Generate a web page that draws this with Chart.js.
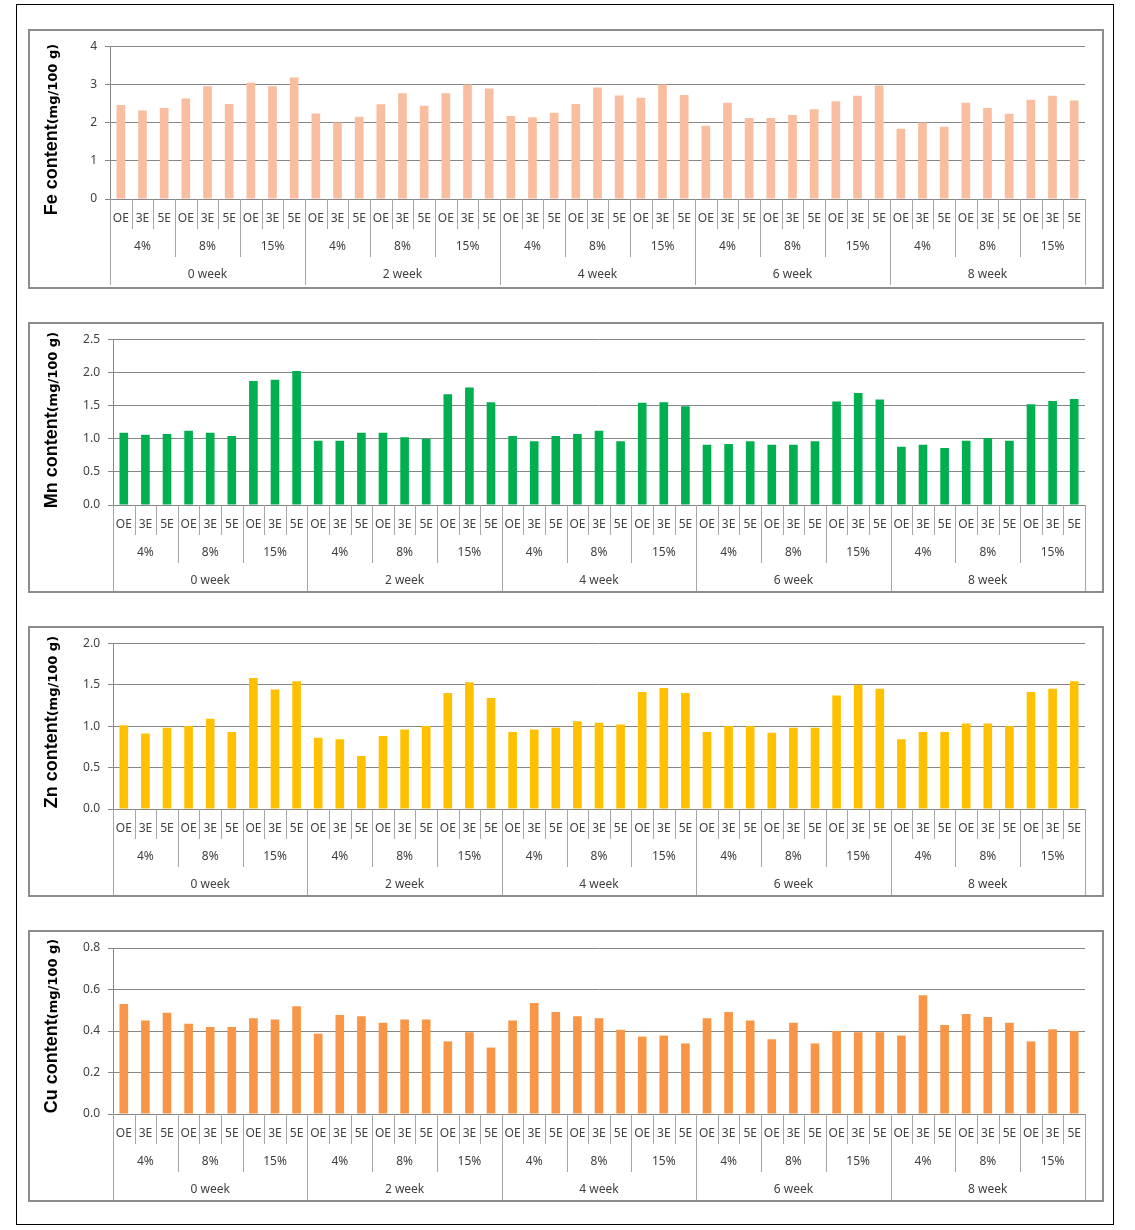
<!DOCTYPE html>
<html>
<head>
<meta charset="utf-8">
<script src="https://cdn.jsdelivr.net/npm/chart.js@4.4.1/dist/chart.umd.min.js"></script>
<style>
  html, body { margin: 0; padding: 0; background: #fff; }
  #frame { position: absolute; left: 16px; top: 4px; width: 1096px; height: 1219px; border: 1.5px solid #000; }
  .panel { position: absolute; left: 28px; width: 1072px; border: 2px solid #8c8c8c; background: #fff; }
  .panel canvas { position: absolute; left: 0; top: 0; }
</style>
</head>
<body>
<div id="frame"></div>
<div class="panel" id="p-fe" style="top:29px;height:256px;"><canvas id="c-fe"></canvas></div>
<div class="panel" id="p-mn" style="top:322px;height:267px;"><canvas id="c-mn"></canvas></div>
<div class="panel" id="p-zn" style="top:626px;height:267px;"><canvas id="c-zn"></canvas></div>
<div class="panel" id="p-cu" style="top:930px;height:268px;"><canvas id="c-cu"></canvas></div>
<script>
const weeks = ['0 week', '2 week', '4 week', '6 week', '8 week'];
const concentrations = ['4%', '8%', '15%'];
const extractions = ['OE', '3E', '5E'];

const feValues = [2.46, 2.32, 2.38, 2.63, 2.95, 2.49, 3.04, 2.95, 3.18,
                  2.24, 2.00, 2.15, 2.48, 2.77, 2.44, 2.77, 3.00, 2.89,
                  2.17, 2.14, 2.26, 2.49, 2.92, 2.71, 2.65, 3.00, 2.72,
                  1.92, 2.52, 2.12, 2.12, 2.20, 2.35, 2.56, 2.70, 2.97,
                  1.84, 2.00, 1.89, 2.52, 2.38, 2.23, 2.60, 2.70, 2.58];
const mnValues = [1.09, 1.06, 1.07, 1.12, 1.09, 1.04, 1.87, 1.89, 2.02,
                  0.97, 0.97, 1.09, 1.09, 1.02, 1.00, 1.67, 1.77, 1.55,
                  1.04, 0.96, 1.04, 1.07, 1.12, 0.96, 1.54, 1.55, 1.49,
                  0.91, 0.92, 0.96, 0.91, 0.91, 0.96, 1.56, 1.69, 1.59,
                  0.88, 0.91, 0.86, 0.97, 1.01, 0.97, 1.52, 1.57, 1.60];
const znValues = [1.01, 0.91, 0.98, 1.00, 1.09, 0.93, 1.58, 1.44, 1.54,
                  0.86, 0.84, 0.64, 0.88, 0.96, 1.00, 1.40, 1.53, 1.34,
                  0.93, 0.96, 0.98, 1.06, 1.04, 1.02, 1.41, 1.46, 1.40,
                  0.93, 1.00, 1.00, 0.92, 0.98, 0.98, 1.37, 1.50, 1.45,
                  0.84, 0.93, 0.93, 1.03, 1.03, 1.00, 1.41, 1.45, 1.54];
const cuValues = [0.530, 0.451, 0.488, 0.435, 0.419, 0.419, 0.461, 0.456, 0.519,
                  0.387, 0.477, 0.471, 0.440, 0.456, 0.456, 0.350, 0.394, 0.320,
                  0.451, 0.535, 0.492, 0.471, 0.461, 0.406, 0.373, 0.378, 0.340,
                  0.461, 0.492, 0.451, 0.360, 0.440, 0.340, 0.400, 0.394, 0.394,
                  0.378, 0.572, 0.429, 0.482, 0.467, 0.440, 0.350, 0.408, 0.400];

const categories = [];
weeks.forEach(w => concentrations.forEach(c => extractions.forEach(e => categories.push([e, c, w]))));

const panels = [
  { id: 'fe', element: 'Fe', values: feValues, color: '#f9be9f', max: 4, step: 1, dec: 0, left: 80, top: 11, bottom: 88, titleShift: 7 },
  { id: 'mn', element: 'Mn', values: mnValues, color: '#00b050', max: 2.5, step: 0.5, dec: 1, left: 83, top: 13, bottom: 86, titleShift: -2 },
  { id: 'zn', element: 'Zn', values: znValues, color: '#ffc000', max: 2.0, step: 0.5, dec: 1, left: 83, top: 13, bottom: 86, titleShift: -4 },
  { id: 'cu', element: 'Cu', values: cuValues, color: '#f79646', max: 0.8, step: 0.2, dec: 1, left: 83, top: 16, bottom: 86, titleShift: -5 }
];

const LABEL_FONT = '12px "Noto Sans", sans-serif';

// draws the 3-level category table under the x axis and the y title
const tablePlugin = {
  id: 'catTable',
  afterDraw(chart, args, opts) {
    const ctx = chart.ctx;
    const x = chart.scales.x;
    const base = chart.chartArea.bottom;
    const n = categories.length;
    const step = x.getPixelForValue(1) - x.getPixelForValue(0);
    const edge = i => x.getPixelForValue(0) - step / 2 + i * step;

    ctx.save();
    ctx.strokeStyle = '#a6a6a6';
    ctx.lineWidth = 1;
    for (let i = 0; i <= n; i++) {
      const len = i % 9 === 0 ? 86 : (i % 3 === 0 ? 58 : 30);
      const px = Math.round(edge(i)) + 0.5;
      ctx.beginPath();
      ctx.moveTo(px, base);
      ctx.lineTo(px, base + len);
      ctx.stroke();
    }

    ctx.fillStyle = '#404040';
    ctx.font = LABEL_FONT;
    ctx.textAlign = 'center';
    ctx.textBaseline = 'middle';
    categories.forEach((c, i) => {
      ctx.fillText(c[0], x.getPixelForValue(i), base + 20);
    });
    for (let g = 0; g < n / 3; g++) {
      ctx.fillText(concentrations[g % 3], (edge(g * 3) + edge(g * 3 + 3)) / 2, base + 48);
    }
    weeks.forEach((w, g) => {
      ctx.fillText(w, (edge(g * 9) + edge(g * 9 + 9)) / 2, base + 76);
    });

    // y axis title with smaller unit part
    const cy = (chart.chartArea.top + chart.chartArea.bottom) / 2 + opts.titleShift;
    ctx.translate(27, cy);
    ctx.rotate(-Math.PI / 2);
    ctx.fillStyle = '#000';
    ctx.textAlign = 'left';
    ctx.textBaseline = 'alphabetic';
    const big = 'bold 18px "Liberation Sans", Arial, sans-serif';
    const small = 'bold 13px "DejaVu Sans", sans-serif';
    const t1 = opts.element + ' content';
    const t2 = '(mg/100 g)';
    ctx.font = big;
    const w1 = ctx.measureText(t1).width;
    ctx.font = small;
    const w2 = ctx.measureText(t2).width;
    const start = -(w1 + w2) / 2;
    ctx.font = big;
    ctx.fillText(t1, start, 0);
    ctx.font = small;
    ctx.fillText(t2, start + w1, 0);
    ctx.restore();
  }
};

panels.forEach(p => {
  const holder = document.getElementById('p-' + p.id);
  const canvas = document.getElementById('c-' + p.id);
  canvas.width = holder.clientWidth;
  canvas.height = holder.clientHeight;
  canvas.style.width = holder.clientWidth + 'px';
  canvas.style.height = holder.clientHeight + 'px';

  new Chart(canvas.getContext('2d'), {
    type: 'bar',
    data: {
      labels: categories.map(c => c.join(' ')),
      datasets: [{
        data: p.values,
        backgroundColor: p.color,
        borderWidth: 0,
        barPercentage: 0.4,
        categoryPercentage: 1.0
      }]
    },
    plugins: [tablePlugin],
    options: {
      responsive: false,
      animation: false,
      events: [],
      layout: { padding: { top: p.top, right: 17, left: 0, bottom: 0 } },
      plugins: {
        legend: { display: false },
        tooltip: { enabled: false },
        catTable: { element: p.element, titleShift: p.titleShift }
      },
      scales: {
        x: {
          grid: { display: false, drawTicks: false },
          border: { display: true, color: '#868686', width: 1 },
          ticks: { display: false },
          afterFit: s => { s.height = p.bottom; }
        },
        y: {
          min: 0,
          max: p.max,
          ticks: {
            stepSize: p.step,
            padding: 8,
            color: '#404040',
            font: { family: '"Noto Sans", sans-serif', size: 12 },
            callback: v => Number(v).toFixed(p.dec)
          },
          grid: { color: '#868686', lineWidth: 1, tickLength: 5 },
          border: { display: true, color: '#868686', width: 1 },
          afterFit: s => { s.width = p.left; }
        }
      }
    }
  });
});
</script>
</body>
</html>
